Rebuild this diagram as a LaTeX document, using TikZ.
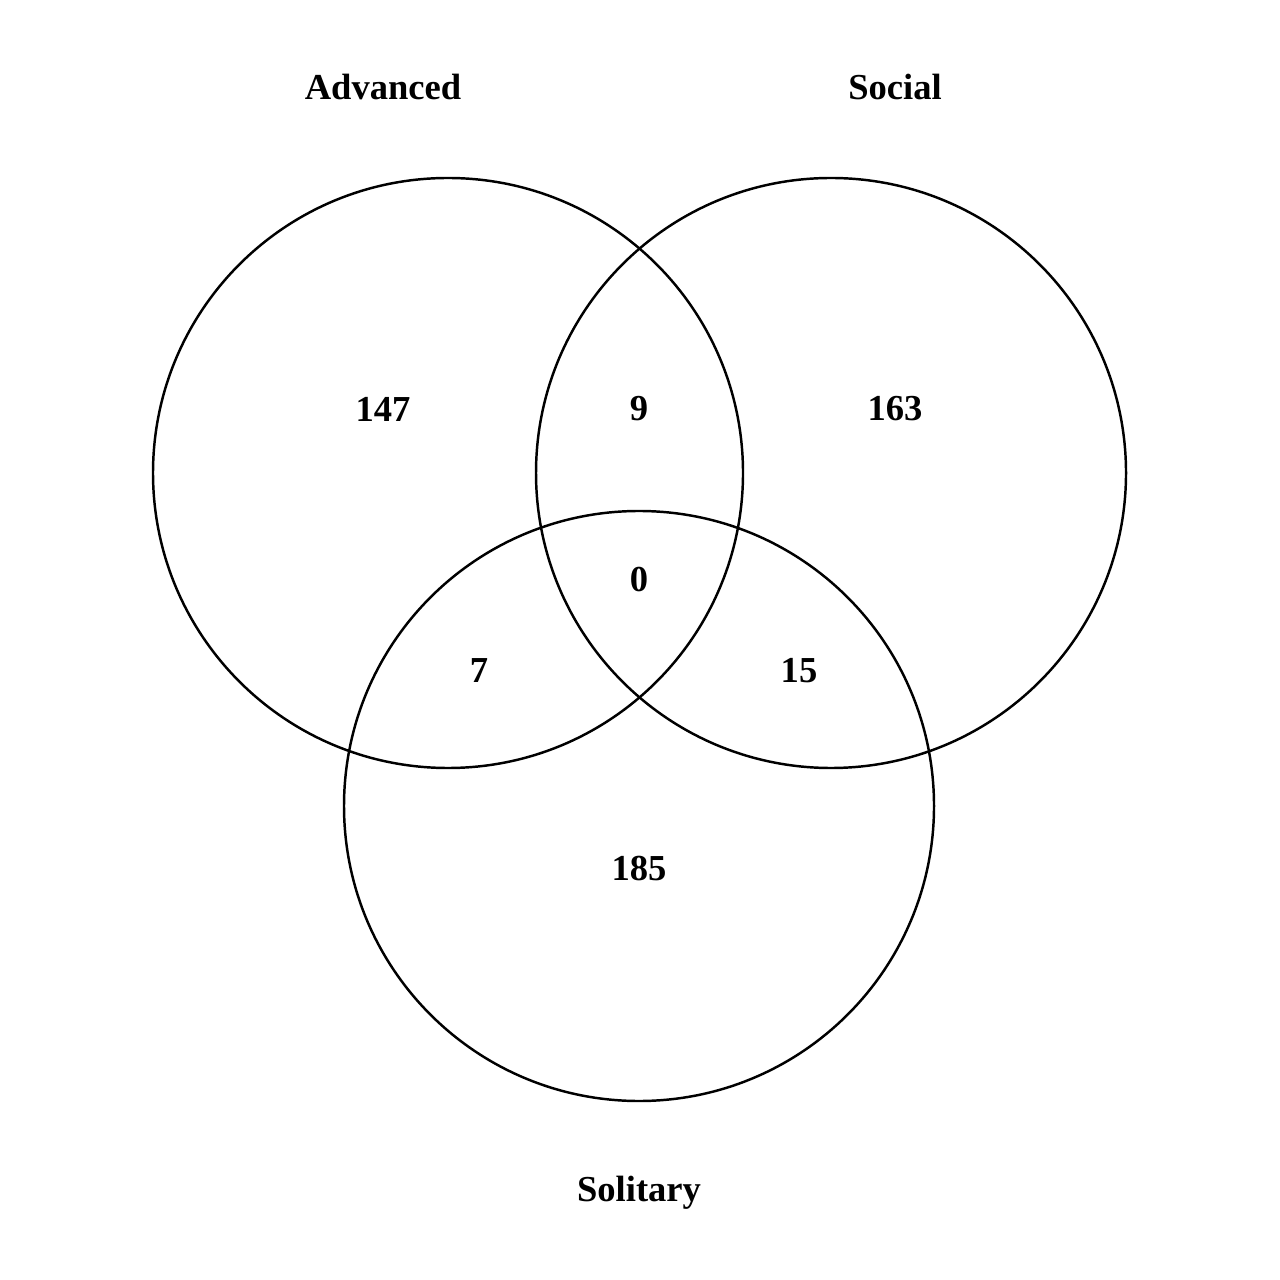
\documentclass[tikz,border=0pt]{standalone}
\usepackage{fontspec}
\setmainfont{Liberation Serif}

\tikzset{
  setcircle/.style={draw=black, line width=0.7pt},
  setlabel/.style={font=\fontsize{10.4}{12}\selectfont\bfseries, inner sep=0pt},
  countlabel/.style={font=\fontsize{10.4}{12}\selectfont\bfseries, inner sep=0pt},
}

\begin{document}
\begin{tikzpicture}[x=0.01cm, y=-0.01cm]
    \useasboundingbox (0,0) rectangle (1280,1280);

    % the three sets
    \draw[setcircle] (448,473) circle (295);
    \draw[setcircle] (831,473) circle (295);
    \draw[setcircle] (639,806) circle (295);

    % set names
    \node[setlabel] (advanced) at (383,87) {Advanced};
    \node[setlabel] (social) at (895,87) {Social};
    \node[setlabel] (solitary) at (639,1193) {Solitary};

    % region counts
    \node[countlabel] (advonly) at (383,409) {147};
    \node[countlabel] (advsoc) at (639,409) {9};
    \node[countlabel] (soconly) at (895,409) {163};
    \node[countlabel] (allthree) at (639,580) {0};
    \node[countlabel] (advsol) at (479,671) {7};
    \node[countlabel] (socsol) at (799,671) {15};
    \node[countlabel] (solonly) at (639,869) {185};

\end{tikzpicture}
\end{document}
